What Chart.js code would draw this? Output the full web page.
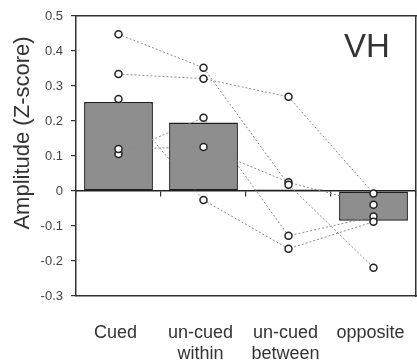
<!DOCTYPE html>
<html>
<head>
<meta charset="utf-8">
<script src="https://cdn.jsdelivr.net/npm/chart.js@4/dist/chart.umd.min.js"></script>
<style>
  html, body { margin: 0; padding: 0; background: #ffffff; }
  #wrap { width: 417px; height: 363px; }
</style>
</head>
<body>
<div id="wrap"><canvas id="c" width="417" height="363"></canvas></div>
<script>
// ---- data ----
const categories = ['Cued', ['un-cued', 'within'], ['un-cued', 'between'], 'opposite'];
const barMeans = [0.254, 0.196, 0.004, -0.085];
const subject1 = [0.448, 0.352, 0.018, -0.219];
const subject2 = [0.334, 0.321, 0.269, -0.007];
const subject3 = [0.263, -0.026, -0.165, -0.088];
const subject4 = [0.120, 0.126, 0.025, -0.039];
const subject5 = [0.106, 0.209, -0.128, -0.073];
const yTickValues = [-0.3, -0.2, -0.1, 0, 0.1, 0.2, 0.3, 0.4, 0.5];
const yTitle = 'Amplitude (Z-score)';
const panelLabel = 'VH';

const FONT = "'Liberation Sans', Arial, sans-serif";
const frameColor = '#333333';

function subjectDataset(values) {
  return {
    type: 'line',
    data: values,
    order: 0,
    borderColor: '#8c8c8c',
    borderWidth: 1,
    borderDash: [2, 2],
    fill: false,
    tension: 0,
    pointRadius: 3.5,
    pointHoverRadius: 3.5,
    pointBackgroundColor: '#ffffff',
    pointBorderColor: '#222222',
    pointBorderWidth: 1.5
  };
}

function noPad(scale) {
  scale.paddingLeft = 0;
  scale.paddingRight = 0;
  scale.paddingTop = 0;
  scale.paddingBottom = 0;
}

const textPlugin = {
  id: 'textPlugin',
  afterDraw(chart) {
    const ctx = chart.ctx;
    const area = chart.chartArea;
    ctx.save();
    ctx.translate(28.5, 133);
    ctx.rotate(-Math.PI / 2);
    ctx.font = '22px ' + FONT;
    ctx.fillStyle = '#333333';
    ctx.textAlign = 'center';
    ctx.textBaseline = 'alphabetic';
    ctx.fillText(yTitle, 0, 0);
    ctx.restore();
    ctx.save();
    ctx.font = '33px ' + FONT;
    ctx.fillStyle = '#333333';
    ctx.textAlign = 'left';
    ctx.textBaseline = 'alphabetic';
    ctx.fillText(panelLabel, area.right - 72, area.top + 41);
    ctx.restore();
  }
};

new Chart(document.getElementById('c'), {
  type: 'bar',
  data: {
    labels: categories,
    datasets: [
      {
        type: 'bar',
        data: barMeans,
        order: 1,
        backgroundColor: '#8e8e8e',
        borderColor: '#1e1e1e',
        borderWidth: 1.5,
        borderSkipped: false,
        barPercentage: 0.81,
        categoryPercentage: 1.0
      },
      subjectDataset(subject1),
      subjectDataset(subject2),
      subjectDataset(subject3),
      subjectDataset(subject4),
      subjectDataset(subject5)
    ]
  },
  options: {
    responsive: false,
    animation: false,
    layout: { padding: 0, autoPadding: false },
    plugins: { legend: { display: false }, tooltip: { enabled: false } },
    scales: {
      x: {
        type: 'category',
        position: 'bottom',
        offset: true,
        grid: { display: true, drawOnChartArea: false, drawTicks: false, offset: true },
        border: { display: true, color: frameColor, width: 1.5 },
        ticks: {
          font: { family: FONT, size: 18 },
          color: '#333333',
          padding: 26,
          labelOffset: -3,
          maxRotation: 0,
          autoSkip: false
        },
        afterFit(scale) { scale.height = 67; noPad(scale); }
      },
      xt: {
        type: 'category',
        position: 'top',
        offset: true,
        grid: { display: true, drawOnChartArea: false, drawTicks: false },
        border: { display: true, color: frameColor, width: 1.5 },
        ticks: { display: false },
        afterFit(scale) { scale.height = 16; noPad(scale); }
      },
      xz: {
        type: 'category',
        position: { y: 0 },
        offset: true,
        grid: { display: true, offset: true, drawOnChartArea: false, drawTicks: true, tickLength: 5, color: '#333333', lineWidth: 1.2 },
        border: { display: true, color: '#222222', width: 1.5 },
        ticks: { display: false }
      },
      y: {
        type: 'linear',
        position: 'left',
        min: -0.3,
        max: 0.5,
        afterBuildTicks(scale) { scale.ticks = yTickValues.map(v => ({ value: v })); },
        grid: { display: true, drawOnChartArea: false, drawTicks: true, tickLength: 5, color: frameColor, lineWidth: 1.2 },
        border: { display: true, color: frameColor, width: 1.5 },
        ticks: {
          font: { family: FONT, size: 13 },
          color: '#444444',
          padding: 8,
          callback(v) { return String(Math.round(v * 10) / 10); }
        },
        afterFit(scale) { scale.width = 76; noPad(scale); }
      },
      y2: {
        type: 'linear',
        position: 'right',
        min: -0.3,
        max: 0.5,
        grid: { display: true, drawOnChartArea: false, drawTicks: false },
        border: { display: true, color: frameColor, width: 1.5 },
        ticks: { display: false },
        afterFit(scale) { scale.width = 1; noPad(scale); }
      }
    }
  },
  plugins: [textPlugin]
});
</script>
</body>
</html>
